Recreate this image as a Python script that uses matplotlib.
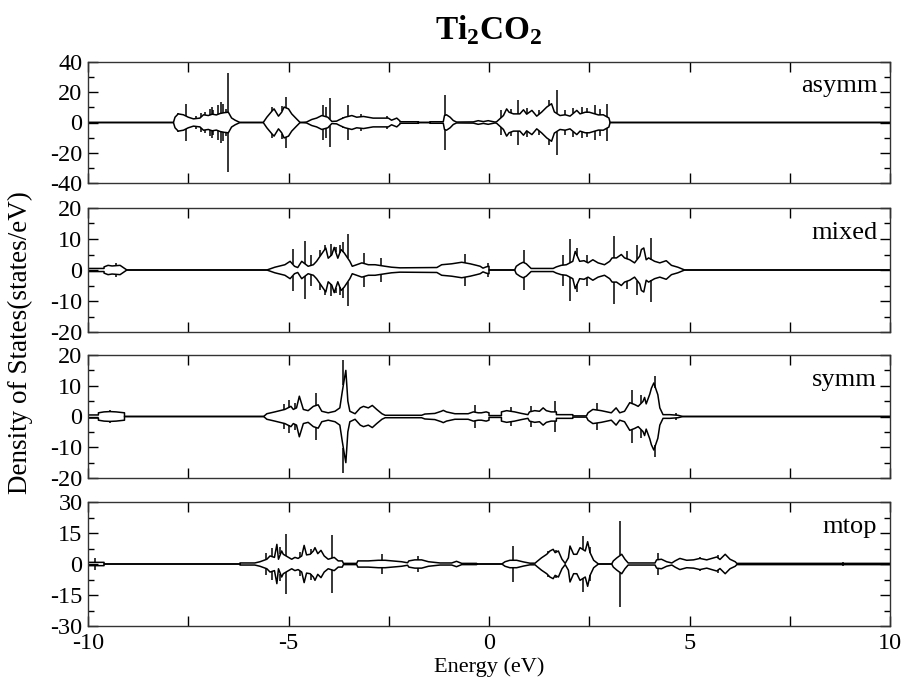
import numpy as np
import matplotlib
matplotlib.use("Agg")
import matplotlib.pyplot as plt
from matplotlib.ticker import MultipleLocator, FuncFormatter

plt.rcParams['font.family'] = ['Liberation Serif', 'DejaVu Serif']
plt.rcParams['mathtext.fontset'] = 'custom'
plt.rcParams['mathtext.rm'] = 'Liberation Serif'
plt.rcParams['mathtext.bf'] = 'Liberation Serif:bold'

# ---------------- data (energy in eV, DOS in states/eV; spin-down mirrored) -------------
panel_names = ["asymm", "mixed", "symm", "mtop"]

# asymm: envelope
e_asymm = [-10.0, -7.87, -7.83, -7.75, -7.62, -7.50, -7.37, -7.21, -7.12, -7.00,
           -6.90, -6.80, -6.70, -6.60, -6.50, -6.42, -6.33, -6.21, -5.63, -5.54,
           -5.42, -5.36, -5.25, -5.17, -5.11, -5.00, -4.92, -4.80, -4.71, -4.55,
           -4.42, -4.30, -4.17, -4.02, -3.92, -3.80, -3.72, -3.59, -3.42, -3.30,
           -3.13, -2.89, -2.64, -2.51, -2.43, -2.30, -2.22, -2.22, -1.76, -1.76,
           -1.47, -1.47, -1.14, -1.11, -1.06, -0.97, -0.89, -0.81, -0.39, -0.27,
           -0.14, -0.02, 0.15, 0.19, 0.36, 0.44, 0.50, 0.61, 0.77, 0.86,
           0.94, 1.07, 1.19, 1.31, 1.44, 1.56, 1.63, 1.77, 1.90, 2.02,
           2.19, 2.27, 2.40, 2.50, 2.73, 2.85, 2.99, 3.02, 10.0]
d_asymm = [0, 0, 3.5, 5.7, 5.1, 3.5, 2.4, 2.9, 5.1, 4.6,
           5.5, 5.0, 6.0, 6.5, 6.8, 3.0, 1.5, 0, 0, 3.5,
           7.3, 9.0, 4.2, 6.8, 10.2, 9.0, 5.7, 2.4, 0, 0.3,
           2.0, 2.9, 4.6, 3.5, 0.7, 0.9, 2.0, 3.5, 4.6, 3.5,
           4.0, 2.9, 2.9, 2.9, 1.5, 2.9, 1.0, 0.5, 0.5, 0,
           0, 0.5, 0.5, 4.6, 5.1, 3.5, 1.3, 0.3, 0.4, 1.2,
           0.6, 1.2, 0.3, 0.5, 4.6, 9.0, 6.8, 5.7, 5.7, 8.4,
           5.5, 8.0, 4.2, 6.8, 10.2, 12.4, 7.0, 4.6, 5.1, 4.2,
           8.0, 5.7, 6.8, 6.8, 5.0, 5.1, 3.0, 0, 0]
# asymm: sharp peaks
spk_e_asymm = [-7.75, -7.56, -7.30, -7.18, -7.08, -6.97, -6.92, -6.88, -6.75, -6.69,
               -6.63, -6.57, -6.50, -5.40, -5.15, -5.06, -4.13, -4.07, -3.97, -3.65,
               -3.51, -3.20, -2.55, -1.10, 0.30, 0.55, 0.72, 0.95, 1.25, 1.50,
               1.69, 1.90, 2.10, 2.33, 2.45, 2.64, 2.78, 2.94]
spk_d_asymm = [6.5, 12.4, 4.5, 6.0, 6.8, 9.0, 10.2, 8.0, 11.3, 13.5,
               12.4, 9.0, 33.0, 10.0, 11.0, 16.8, 11.3, 10.2, 16.1, 3.5,
               11.7, 5.5, 4.0, 17.9, 8.0, 9.0, 14.6, 9.5, 8.5, 14.6,
               21.2, 8.0, 9.5, 10.0, 9.5, 11.3, 9.0, 12.4]

# mixed
e_mixed = [-10.0, -9.60, -9.60, -9.50, -9.40, -9.20, -9.03, -5.54, -5.34, -5.09,
           -4.96, -4.85, -4.77, -4.67, -4.51, -4.38, -4.30, -4.13, -4.07, -4.01,
           -3.92, -3.86, -3.77, -3.69, -3.61, -3.47, -3.41, -3.30, -3.17, -3.01,
           -2.84, -2.59, -2.43, -2.22, -1.30, -1.18, -0.93, -0.68, -0.47, -0.31,
           -0.22, -0.15, -0.07, 0.0, 0.0, 0.64, 0.68, 0.77, 0.85, 0.93,
           1.01, 1.05, 1.51, 1.60, 1.68, 1.80, 1.93, 2.09, 2.15, 2.26,
           2.37, 2.47, 2.59, 2.72, 2.88, 3.01, 3.07, 3.18, 3.30, 3.38,
           3.51, 3.63, 3.76, 3.80, 3.86, 3.92, 3.98, 4.13, 4.26, 4.42,
           4.55, 4.71, 4.88, 10.0]
d_mixed = [0.5, 0.5, 1.0, 1.5, 1.3, 1.5, 0, 0, 0.9, 1.7,
           2.8, 1.2, 0.8, 2.8, 1.2, 1.7, 2.8, 6.0, 7.1, 3.8,
           4.9, 7.3, 3.8, 6.6, 5.5, 2.8, 1.2, 1.7, 2.3, 1.7,
           1.7, 1.2, 0.9, 0.7, 0.8, 1.7, 2.0, 2.5, 2.0, 1.5,
           1.2, 0.6, 1.0, 1.2, 0, 0, 1.2, 2.0, 2.5, 2.0,
           1.0, 0.5, 0.5, 0.5, 1.0, 1.5, 1.7, 2.8, 6.0, 2.8,
           3.0, 2.3, 3.3, 2.3, 1.7, 2.8, 3.9, 3.9, 5.0, 3.9,
           3.3, 2.3, 4.5, 6.6, 7.1, 3.3, 3.9, 2.8, 2.3, 3.0,
           1.5, 0.9, 0, 0]
spk_e_mixed = [-9.30, -4.90, -4.59, -4.45, -4.21, -4.10, -3.95, -3.82, -3.72, -3.64,
               -3.52, -3.11, -2.69, -0.60, -0.02, 0.87, 1.85, 2.01, 2.20, 2.45,
               3.12, 3.45, 3.70, 4.05]
spk_d_mixed = [2.2, 6.9, 9.5, 5.0, 6.6, 8.0, 8.5, 7.5, 8.0, 9.0,
               11.6, 5.5, 3.9, 5.2, 2.3, 6.6, 5.0, 10.0, 7.0, 5.0,
               10.9, 6.0, 8.0, 10.3]

# symm
e_symm = [-10.0, -9.74, -9.74, -9.60, -9.45, -9.30, -9.09, -9.09, -5.62, -5.54,
          -5.34, -5.09, -4.94, -4.88, -4.80, -4.73, -4.63, -4.51, -4.38, -4.26,
          -4.17, -4.01, -3.84, -3.72, -3.66, -3.61, -3.57, -3.52, -3.47, -3.34,
          -3.21, -3.13, -3.01, -2.91, -2.80, -2.67, -2.59, -1.68, -1.60, -1.35,
          -1.19, -1.14, -1.06, -0.85, -0.52, -0.39, -0.27, -0.19, -0.07, 0.0,
          0.0, 0.31, 0.31, 0.44, 0.64, 0.81, 0.97, 1.01, 1.14, 1.26,
          1.35, 1.43, 1.55, 1.68, 1.68, 2.09, 2.09, 2.43, 2.47, 2.59,
          2.80, 3.05, 3.17, 3.26, 3.38, 3.51, 3.63, 3.72, 3.84, 3.88,
          3.92, 4.01, 4.05, 4.11, 4.21, 4.26, 4.34, 4.51, 4.71, 4.84, 10.0]
d_symm = [0.5, 0.5, 1.2, 1.5, 1.6, 1.5, 1.2, 0, 0, 0.9,
          1.5, 2.3, 3.3, 2.3, 2.8, 6.6, 2.3, 1.9, 3.3, 3.8,
          1.7, 1.2, 1.7, 2.8, 8.0, 12.0, 15.0, 5.0, 1.7, 0.9,
          2.8, 3.3, 2.8, 3.6, 2.3, 0.9, 0.4, 0.4, 0.8, 1.0,
          1.7, 2.0, 1.5, 0.9, 0.9, 1.5, 1.2, 1.2, 1.5, 1.2,
          0.3, 0.3, 1.5, 1.9, 1.5, 1.0, 0.6, 1.5, 1.9, 1.7,
          2.8, 1.9, 1.5, 1.5, 0.6, 0.6, 0.2, 0.2, 1.2, 2.3,
          1.9, 1.2, 2.8, 1.2, 1.7, 4.5, 3.9, 3.3, 4.9, 6.2,
          4.1, 7.3, 9.2, 10.9, 7.1, 2.8, 0.6, 0.6, 0.4, 0, 0]
spk_e_symm = [-9.45, -5.10, -5.00, -4.85, -4.31, -3.63, -0.35, 0.56, 1.05, 1.64,
              2.69, 3.57, 3.80, 4.15, 4.67]
spk_d_symm = [2.0, 4.0, 5.5, 4.5, 7.8, 18.4, 3.6, 3.1, 3.5, 4.9,
              4.4, 8.7, 6.9, 13.3, 1.2]

# mtop
e_mtop = [-10.0, -9.60, -9.60, -6.21, -6.21, -5.84, -5.71, -5.54, -5.46, -5.35,
          -5.29, -5.25, -5.17, -5.13, -5.00, -4.92, -4.84, -4.76, -4.67, -4.61,
          -4.55, -4.46, -4.38, -4.34, -4.27, -4.19, -4.11, -4.01, -3.86, -3.76,
          -3.66, -3.63, -3.30, -3.27, -3.01, -2.76, -2.59, -2.18, -2.03, -2.00,
          -1.85, -1.68, -1.51, -1.22, -0.93, -0.81, -0.68, -0.31, -0.31, 0.32,
          0.40, 0.52, 0.69, 0.86, 1.02, 1.15, 1.19, 1.31, 1.44, 1.52,
          1.60, 1.65, 1.73, 1.82, 1.90, 1.98, 2.02, 2.11, 2.19, 2.27,
          2.40, 2.46, 2.52, 2.61, 2.73, 3.06, 3.10, 3.19, 3.31, 3.39,
          3.47, 4.14, 4.18, 4.30, 4.43, 4.56, 4.64, 4.76, 4.93, 5.10,
          5.26, 5.43, 5.68, 5.76, 5.89, 6.01, 6.14, 6.18, 10.0]
d_mtop = [0.8, 0.8, 0, 0, 0.5, 0.5, 1.1, 2.3, 3.9, 3.2,
          9.5, 2.3, 6.3, 4.7, 3.2, 2.3, 3.2, 2.7, 3.9, 9.0,
          4.4, 4.7, 6.3, 7.9, 5.0, 6.6, 3.9, 2.3, 3.2, 1.5,
          1.5, 0.3, 0.3, 1.5, 1.5, 1.8, 1.8, 1.1, 0.6, 1.5,
          2.0, 2.0, 1.1, 0.5, 0.5, 1.3, 0.3, 0.3, 0, 0,
          1.1, 1.8, 1.8, 1.0, 0.4, 0.4, 1.1, 3.0, 4.7, 6.3,
          7.1, 5.5, 6.3, 2.3, 0.3, 3.0, 8.7, 4.7, 4.7, 7.9,
          6.3, 10.8, 5.5, 1.8, 0, 0, 1.5, 3.0, 4.7, 2.3,
          0.5, 0.5, 2.0, 2.3, 1.1, 0.5, 1.5, 2.7, 1.8, 2.0,
          2.7, 2.0, 3.4, 2.2, 4.7, 2.3, 1.1, 0.3, 0.3]
spk_e_mtop = [-9.82, -5.55, -5.42, -5.20, -5.06, -4.72, -4.45, -3.92, -2.68, -1.76,
              0.61, 1.48, 1.68, 2.34, 2.52, 3.27, 4.21, 5.25, 5.72, 8.83]
spk_d_mtop = [3.0, 5.5, 7.9, 8.0, 14.3, 6.0, 7.5, 14.0, 4.6, 3.8,
              8.7, 6.5, 7.0, 13.5, 8.0, 20.8, 5.5, 3.5, 4.5, 1.2]

y_limits = [40, 20, 20, 30]
y_major = [20, 10, 10, 15]

envelopes = [(e_asymm, d_asymm), (e_mixed, d_mixed), (e_symm, d_symm), (e_mtop, d_mtop)]
spikes = [(spk_e_asymm, spk_d_asymm), (spk_e_mixed, spk_d_mixed),
          (spk_e_symm, spk_d_symm), (spk_e_mtop, spk_d_mtop)]

# ---------------- figure ----------------
fig = plt.figure(figsize=(9.09, 6.82), dpi=100)
W, H = 909, 682
left_px, right_px = 88, 890
panels_px = [(62, 183), (208, 332), (355, 478), (502, 626)]

LW = 1.1
for i, (top, bot) in enumerate(panels_px):
    ax = fig.add_axes([left_px / W, 1 - bot / H, (right_px - left_px) / W, (bot - top) / H])
    e, d = np.array(envelopes[i][0]), np.array(envelopes[i][1])
    se, sd = np.array(spikes[i][0]), np.array(spikes[i][1])
    ax.plot(e, d, color='black', lw=LW)
    ax.plot(e, -d, color='black', lw=LW)
    base = np.interp(se, e, d)
    ax.vlines(se, base, sd, color='black', lw=LW)
    ax.vlines(se, -base, -sd, color='black', lw=LW)

    lim = y_limits[i]
    ax.set_xlim(-10, 10)
    ax.set_ylim(-lim, lim)
    ax.yaxis.set_major_locator(MultipleLocator(y_major[i]))
    ax.yaxis.set_minor_locator(MultipleLocator(y_major[i] / 2))
    ax.xaxis.set_major_locator(MultipleLocator(2.5))
    ax.tick_params(which='major', direction='in', length=7, width=1.0,
                   top=True, right=True, labelsize=17.5, pad=4)
    ax.tick_params(axis='x', which='major', pad=5)
    ax.tick_params(which='minor', direction='in', length=4, width=1.0,
                   top=True, right=True)
    ax.yaxis.set_major_formatter(FuncFormatter(lambda v, p: f"{int(round(v))}"))
    if i < 3:
        ax.set_xticklabels([])
    else:
        ax.xaxis.set_major_formatter(FuncFormatter(
            lambda v, p: f"{int(round(v))}" if abs(v - round(v / 5) * 5) < 1e-6 else ""))
    for sp in ax.spines.values():
        sp.set_linewidth(1.0)
        sp.set_color('#333333')
    ax.text(0.984, 0.80, panel_names[i], transform=ax.transAxes, ha='right', va='center',
            fontsize=19)

fig.text(489 / W, 1 - 30 / H, r"Ti$_\mathbf{2}$CO$_\mathbf{2}$", ha='center', va='center',
         fontsize=24, fontweight='bold')
fig.text(20 / W, 1 - 343 / H, "Density of States(states/eV)", rotation=90,
         ha='center', va='center', fontsize=19.5)
fig.text(489 / W, 1 - 667 / H, "Energy (eV)", ha='center', va='center', fontsize=16)

fig.savefig("out.png", dpi=100)
